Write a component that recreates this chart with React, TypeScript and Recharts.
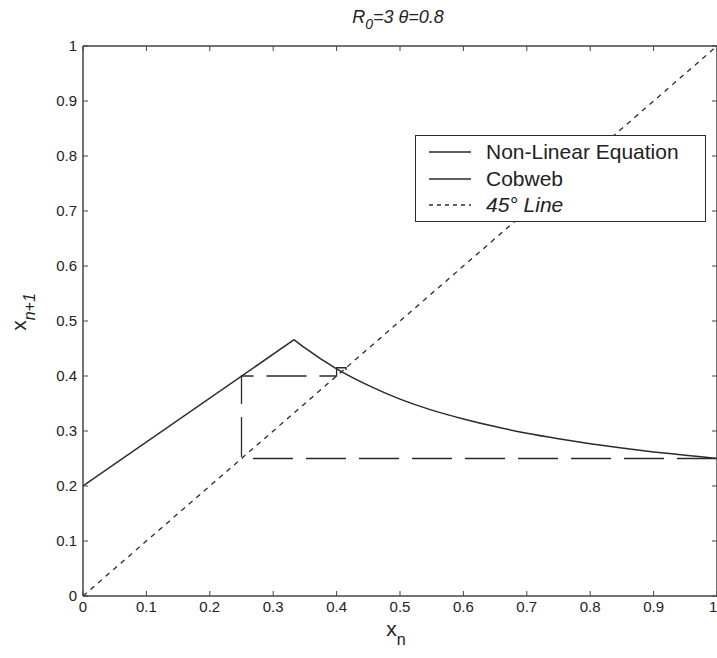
import { LineChart, Line, XAxis, YAxis, Label } from "recharts";

// axis ticks
const xTicks = [0, 0.1, 0.2, 0.3, 0.4, 0.5, 0.6, 0.7, 0.8, 0.9, 1];
const yTicks = [0, 0.1, 0.2, 0.3, 0.4, 0.5, 0.6, 0.7, 0.8, 0.9, 1];

// non-linear map, rising part and falling part
const riseX = [0, 0.333];
const riseY = [0.2, 0.466];
const fallX = [0.333, 0.35, 0.4, 0.45, 0.5, 0.55, 0.6, 0.65, 0.7, 0.75, 0.8, 0.85, 0.9, 0.95, 1];
const fallY = [0.466, 0.451, 0.413, 0.383, 0.358, 0.338, 0.322, 0.308, 0.296, 0.286, 0.277, 0.269, 0.262, 0.256, 0.25];

// cobweb path
const cobX = [1, 0.25, 0.25, 0.4, 0.4, 0.415, 0.415];
const cobY = [0.25, 0.25, 0.4, 0.4, 0.415, 0.415, 0.411];

// 45 degree line
const diagX = [0, 1];
const diagY = [0, 1];

const zip = (xs: number[], ys: number[]) => xs.map((x, i) => ({ x, y: ys[i] }));

const W = 717;
const H = 658;
const INK = "#2a2a2a";
const AXIS = "#444";
const FONT = "'Liberation Sans', Arial, Helvetica, sans-serif";

const tickStyle = { fill: "#222", fontSize: 15, fontFamily: FONT };

function XLabel({ viewBox }: any) {
    const cx = viewBox.x + viewBox.width / 2;
    return (
        <text x={cx - 4} y={636} textAnchor="middle" fontSize={21} fontFamily={FONT} fill="#222">
            x<tspan dy={9} fontSize={16}>n</tspan>
        </text>
    );
}

function YLabel() {
    const x = 26;
    const y = 312;
    return (
        <text x={x} y={y} transform={`rotate(-90, ${x}, ${y})`} textAnchor="middle" fontSize={21} fontFamily={FONT} fill="#222">
            x<tspan dy={9} fontSize={16} fontStyle="italic">n+1</tspan>
        </text>
    );
}

function Title() {
    return (
        <text x={398} y={23} textAnchor="middle" fontSize={18} fontStyle="italic" fontFamily={FONT} fill="#222">
            R<tspan dy={6} fontSize={14}>0</tspan><tspan dy={-6}>=3 θ=0.8</tspan>
        </text>
    );
}

function LegendBox() {
    const rows = [
        { label: "Non-Linear Equation", dash: undefined, italic: false },
        { label: "Cobweb", dash: undefined, italic: false },
        { label: "45° Line", dash: "4 4", italic: true },
    ];
    return (
        <div
            style={{
                position: "absolute", left: 415, top: 135, width: 289, height: 85,
                border: `1.5px solid ${INK}`, background: "#fff", fontFamily: FONT,
            }}
        >
            {rows.map((r, i) => (
                <div key={r.label} style={{ position: "absolute", left: 0, top: 3 + i * 26.5, height: 26, display: "flex", alignItems: "center" }}>
                    <svg width={70} height={26}>
                        <line x1={13} x2={55} y1={13} y2={13} stroke={INK} strokeWidth={1.3} strokeDasharray={r.dash} />
                    </svg>
                    <span style={{ fontSize: 21, color: "#222", fontStyle: r.italic ? "italic" : "normal" }}>{r.label}</span>
                </div>
            ))}
        </div>
    );
}

export default function App() {
    return (
        <div style={{ position: "absolute", left: 0, top: 0, width: W, height: H, background: "#fff", overflow: "hidden" }}>
            <LineChart width={W} height={H} margin={{ top: 45, right: -1, bottom: 32, left: 23 }}>
                <XAxis
                    dataKey="x"
                    type="number"
                    domain={[0, 1]}
                    ticks={xTicks}
                    height={30}
                    tickSize={-5}
                    tickMargin={10}
                    tick={tickStyle}
                    stroke={AXIS}
                    axisLine={{ stroke: AXIS, strokeWidth: 1.5 }}
                    allowDataOverflow
                >
                    <Label content={<XLabel />} />
                </XAxis>
                <XAxis
                    xAxisId="top"
                    orientation="top"
                    dataKey="x"
                    type="number"
                    domain={[0, 1]}
                    ticks={xTicks}
                    height={1}
                    tickSize={-5}
                    tickFormatter={() => ""}
                    stroke={AXIS}
                    axisLine={{ stroke: AXIS, strokeWidth: 1.5 }}
                    allowDataOverflow
                />
                <YAxis
                    type="number"
                    domain={[0, 1]}
                    ticks={yTicks}
                    width={60}
                    tickSize={-5}
                    tickMargin={11}
                    tick={tickStyle}
                    stroke={AXIS}
                    axisLine={{ stroke: AXIS, strokeWidth: 1.5 }}
                    allowDataOverflow
                >
                    <Label content={<YLabel />} />
                    <Label content={<Title />} />
                </YAxis>
                <YAxis
                    yAxisId="right"
                    orientation="right"
                    type="number"
                    domain={[0, 1]}
                    ticks={yTicks}
                    width={1}
                    tickSize={-5}
                    tickFormatter={() => ""}
                    stroke={AXIS}
                    axisLine={{ stroke: AXIS, strokeWidth: 1.5 }}
                    allowDataOverflow
                />
                {/* invisible series so the mirrored frame axes are drawn */}
                <Line data={zip(diagX, diagY)} xAxisId="top" yAxisId="right" dataKey="y" stroke="none" dot={false} legendType="none" isAnimationActive={false} />
                <Line data={zip(diagX, diagY)} dataKey="y" type="linear" stroke={INK} strokeWidth={1.3} strokeDasharray="5 5" dot={false} isAnimationActive={false} />
                <Line data={zip(cobX, cobY)} dataKey="y" type="linear" stroke={INK} strokeWidth={1.3} strokeDasharray="40 13" dot={false} isAnimationActive={false} />
                <Line data={zip(riseX, riseY)} dataKey="y" type="linear" stroke={INK} strokeWidth={1.5} dot={false} isAnimationActive={false} />
                <Line data={zip(fallX, fallY)} dataKey="y" type="monotone" stroke={INK} strokeWidth={1.5} dot={false} isAnimationActive={false} />
            </LineChart>
            <LegendBox />
        </div>
    );
}
